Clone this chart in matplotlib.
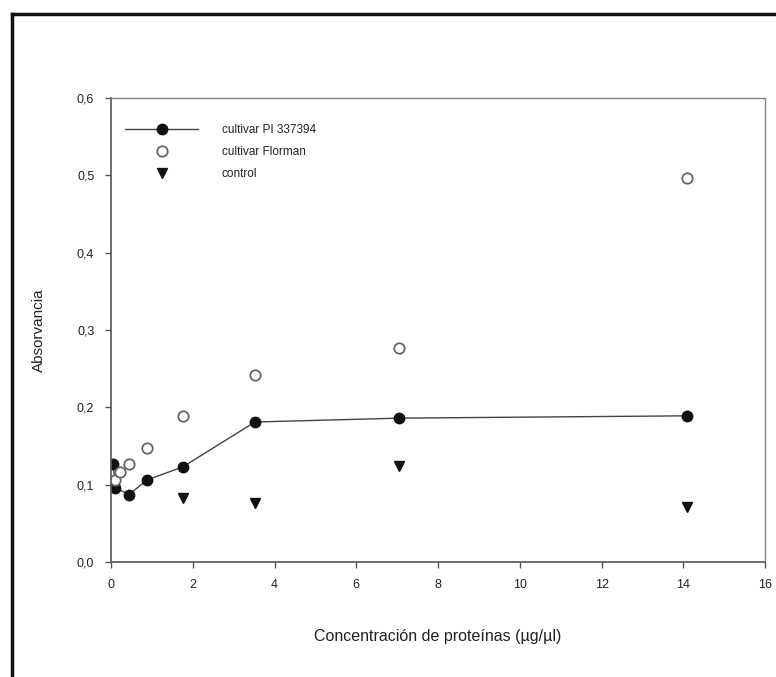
import matplotlib
matplotlib.use('Agg')
import matplotlib.pyplot as plt
from matplotlib.lines import Line2D

plt.rcParams['font.family'] = ['Liberation Sans', 'DejaVu Sans']

# Datos
conc_pi = [0.055, 0.11, 0.44, 0.88, 1.76, 3.52, 7.04, 14.08]
abs_pi = [0.127, 0.096, 0.087, 0.106, 0.123, 0.181, 0.186, 0.189]

conc_florman = [0.11, 0.22, 0.44, 0.88, 1.76, 3.52, 7.04, 14.08]
abs_florman = [0.106, 0.116, 0.127, 0.147, 0.189, 0.242, 0.277, 0.497]

conc_control = [1.76, 3.52, 7.04, 14.08]
abs_control = [0.083, 0.076, 0.124, 0.071]

xticks = [0, 2, 4, 6, 8, 10, 12, 14, 16]
yticks = [0.0, 0.1, 0.2, 0.3, 0.4, 0.5, 0.6]
ytick_labels = ['0,0', '0,1', '0,2', '0,3', '0,4', '0,5', '0,6']

texto = '#222222'
eje = '#555555'

fig = plt.figure(figsize=(7.76, 6.77), dpi=100)
ax = fig.add_axes([0.143, 0.170, 0.843, 0.685])

ax.plot(conc_pi, abs_pi, color='#444444', linewidth=1.0, marker='o',
        markersize=7.5, markerfacecolor='#111111', markeredgecolor='#111111',
        label='cultivar PI 337394')
ax.plot(conc_florman, abs_florman, linestyle='none', marker='o', markersize=7.5,
        markerfacecolor='white', markeredgecolor='#666666', markeredgewidth=1.3,
        label='cultivar Florman')
ax.plot(conc_control, abs_control, linestyle='none', marker='v', markersize=6.5,
        color='#111111', label='control')

ax.set_xlim(0, 16)
ax.set_ylim(0, 0.6)
ax.set_xticks(xticks)
ax.set_xticklabels([str(t) for t in xticks])
ax.set_yticks(yticks)
ax.set_yticklabels(ytick_labels)
ax.tick_params(direction='out', length=4, width=1, color=eje, labelcolor=texto,
               labelsize=9, pad=8)

for lado in ['left', 'bottom']:
    ax.spines[lado].set_color(eje)
    ax.spines[lado].set_linewidth(1.2)
for lado in ['top', 'right']:
    ax.spines[lado].set_color('#888888')
    ax.spines[lado].set_linewidth(1.0)

ax.set_xlabel('Concentración de proteínas (µg/µl)', fontsize=11.5, color=texto, labelpad=28)
ax.set_ylabel('Absorvancia', fontsize=11, color=texto, labelpad=22)

leg = ax.legend(loc='upper left', bbox_to_anchor=(0.0, 0.975), frameon=False,
                fontsize=8.5, handlelength=6.2, handletextpad=2.0,
                labelspacing=0.85, borderaxespad=0.8)
for t in leg.get_texts():
    t.set_color(texto)

# Marco exterior del escaneo (solo lados izquierdo y superior visibles)
fig.add_artist(Line2D([12 / 776, 12 / 776], [0, 1 - 14 / 677],
                      transform=fig.transFigure, color='#111111', linewidth=2.5))
fig.add_artist(Line2D([12 / 776, 1], [1 - 14 / 677, 1 - 14 / 677],
                      transform=fig.transFigure, color='#111111', linewidth=2.5))

fig.savefig('out.png', dpi=100)
